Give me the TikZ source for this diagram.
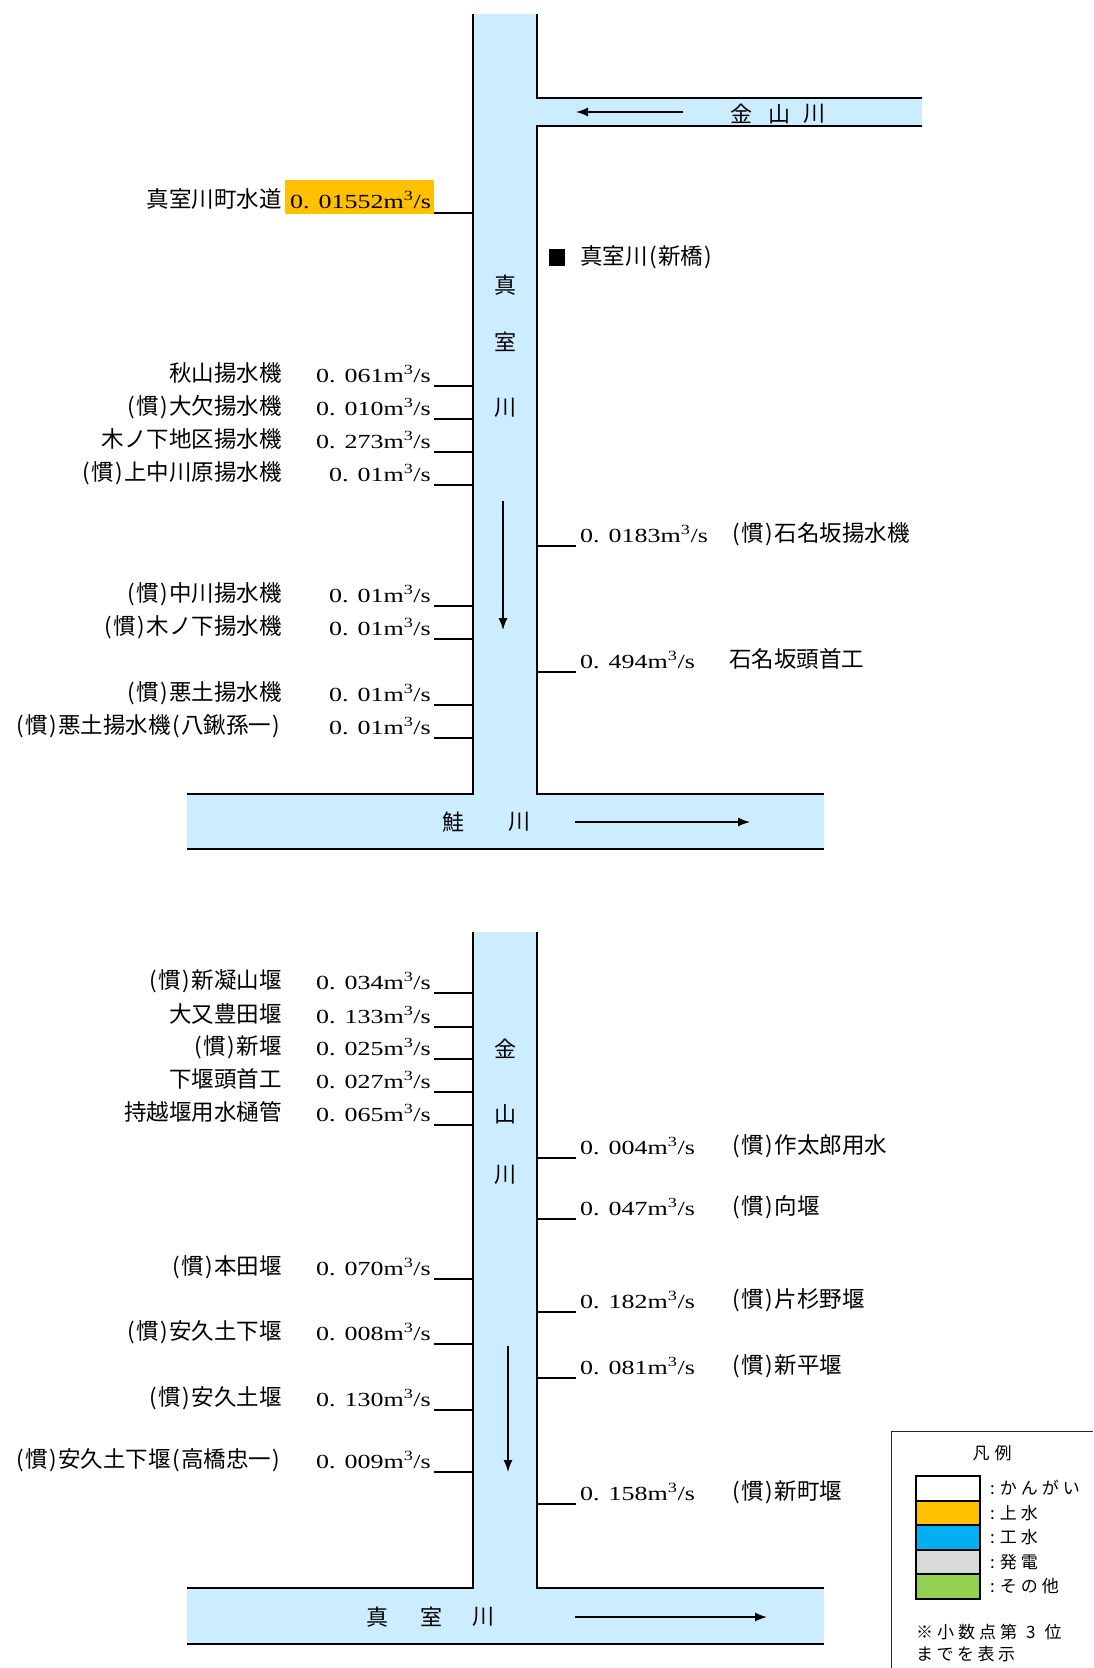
\documentclass[tikz,border=0pt]{standalone}
\usepackage{fontspec}
\setmainfont{Liberation Serif}
\newfontfamily\numf[FakeStretch=1.3]{Liberation Serif}
\newfontfamily\cjk{Noto Sans CJK JP}
\usetikzlibrary{arrows.meta}
\definecolor{riv}{RGB}{204,236,255}
\definecolor{lorange}{RGB}{255,192,0}
\definecolor{lcyan}{RGB}{0,176,240}
\definecolor{lgrey}{RGB}{217,217,217}
\definecolor{lgreen}{RGB}{146,208,80}
\newcommand\msq{m\textsuperscript{3}/s}
\newcommand\vv[2]{#1.\kern9pt#2\msq}
\newcommand\lp{\makebox[10.5pt]{(}}
\newcommand\rp{\makebox[10.5pt]{)}}
\newcommand\kan{\lp{}慣\rp{}}
\begin{document}
\begin{tikzpicture}[x=1pt,y=-1pt,
  bank/.style={line width=2pt},
  tick/.style={line width=2.2pt},
  flow/.style={line width=1.4pt,-{Latex[length=12pt,width=9pt]}},
  nm/.style={font=\cjk\fontsize{22.5}{26}\selectfont,inner sep=0pt,anchor=base east},
  vl/.style={font=\numf\fontsize{20}{24}\selectfont,inner sep=0pt,anchor=base east},
  nmr/.style={font=\cjk\fontsize{22.5}{26}\selectfont,inner sep=0pt,anchor=base west},
  vlr/.style={font=\numf\fontsize{20}{24}\selectfont,inner sep=0pt,anchor=base west},
  rv/.style={font=\cjk\fontsize{22}{26}\selectfont,inner sep=0pt},
  lg/.style={font=\cjk\fontsize{17}{20}\selectfont,inner sep=0pt,anchor=base west}]
\useasboundingbox (0,0) rectangle (1093,1668);

% ===== upper river system =====
\fill[riv] (473,14) rectangle (537,849);
\fill[riv] (537,98) rectangle (922,126);
\fill[riv] (187,794) rectangle (824,849);
\draw[bank] (473,14) -- (473,794) -- (187,794);
\draw[bank] (537,14) -- (537,98) -- (922,98);
\draw[bank] (922,126) -- (537,126) -- (537,794) -- (824,794);
\draw[bank] (187,849) -- (824,849);

\node[rv] (u1) at (505,285) {真};
\node[rv] (u2) at (505,342) {室};
\node[rv] (u3) at (505,408) {川};
\node[rv] (k1) at (741,114) {金};
\node[rv] (k2) at (779,114) {山};
\node[rv] (k3) at (814,114) {川};
\node[rv] (s1) at (453,822) {鮭};
\node[rv] (s2) at (519,822) {川};

\coordinate (ka) at (683,112); \coordinate (kb) at (576,112);
\draw[flow] (ka) -- (kb);
\coordinate (da) at (503,501); \coordinate (db) at (503,630);
\draw[flow] (da) -- (db);
\coordinate (sa) at (575,822); \coordinate (sb) at (750,822);
\draw[flow] (sa) -- (sb);

% water supply
\fill[lorange] (285,180) rectangle (434,214);
\node[nm] (w0) at (282,207) {真室川町水道};
\node[vlr] (w1) at (290,208) {\vv{0}{01552}};
\draw[tick] (434,213) -- (473,213);

% gauging point
\fill (549,249) rectangle (565,266);
\node[nmr] (gp) at (580,264) {真室川\lp{}新橋\rp{}};

% left intakes upper
\foreach \y/\n/\v [count=\i] in {386/秋山揚水機/061, 419/\kan{}大欠揚水機/010,
  452/木ノ下地区揚水機/273, 485/\kan{}上中川原揚水機/01, 606/\kan{}中川揚水機/01,
  639/\kan{}木ノ下揚水機/01, 705/\kan{}悪土揚水機/01, 738/\kan{}悪土揚水機\lp{}八鍬孫一\rp{}/01}{
  \node[nm] (ul\i) at (282,\y-5) {\n};
  \node[vl] (uv\i) at (431,\y-4) {\vv{0}{\v}};
  \draw[tick] (434,\y) -- (473,\y);
}
% right intakes upper
\foreach \y/\v/\n/\nx [count=\i] in {546/0183/\kan{}石名坂揚水機/731, 672/494/石名坂頭首工/729}{
  \node[vlr] (urv\i) at (580,\y-4) {\vv{0}{\v}};
  \node[nmr] (urn\i) at (\nx,\y-5) {\n};
  \draw[tick] (537,\y) -- (576,\y);
}

% ===== lower river system =====
\fill[riv] (473,932) rectangle (537,1644);
\fill[riv] (187,1588) rectangle (824,1644);
\draw[bank] (473,932) -- (473,1588) -- (187,1588);
\draw[bank] (537,932) -- (537,1588) -- (824,1588);
\draw[bank] (187,1644) -- (824,1644);

\node[rv] (l1) at (505,1049) {金};
\node[rv] (l2) at (505,1114) {山};
\node[rv] (l3) at (505,1175) {川};
\node[rv] (m1) at (377,1617) {真};
\node[rv] (m2) at (431,1617) {室};
\node[rv] (m3) at (483,1617) {川};

\coordinate (ea) at (508,1346); \coordinate (eb) at (508,1472);
\draw[flow] (ea) -- (eb);
\coordinate (fa) at (575,1617); \coordinate (fb) at (767,1617);
\draw[flow] (fa) -- (fb);

\foreach \y/\n/\v [count=\i] in {993/\kan{}新凝山堰/034, 1027/大又豊田堰/133,
  1059/\kan{}新堰/025, 1092/下堰頭首工/027, 1125/持越堰用水樋管/065,
  1279/\kan{}本田堰/070, 1344/\kan{}安久土下堰/008, 1410/\kan{}安久土堰/130,
  1472/\kan{}安久土下堰\lp{}高橋忠一\rp{}/009}{
  \node[nm] (ll\i) at (282,\y-5) {\n};
  \node[vl] (lv\i) at (431,\y-4) {\vv{0}{\v}};
  \draw[tick] (434,\y) -- (473,\y);
}
\foreach \y/\v/\n [count=\i] in {1158/004/\kan{}作太郎用水, 1219/047/\kan{}向堰,
  1312/182/\kan{}片杉野堰, 1378/081/\kan{}新平堰, 1504/158/\kan{}新町堰}{
  \node[vlr] (lrv\i) at (580,\y-4) {\vv{0}{\v}};
  \node[nmr] (lrn\i) at (731,\y-5) {\n};
  \draw[tick] (537,\y) -- (576,\y);
}

% ===== legend =====
\draw[line width=1pt,black!85] (891,1668) -- (891,1431) -- (1093,1431);
\node[font=\cjk\fontsize{17}{20}\selectfont,inner sep=0pt] (lgt) at (992,1453) {凡\kern5pt 例};
\foreach \c/\t [count=\i from 0] in {white/か\kern4pt ん\kern4pt が\kern4pt い,
  lorange/上\kern4pt 水, lcyan/工\kern4pt 水, lgrey/発\kern4pt 電,
  lgreen/そ\kern4pt の\kern4pt 他}{
  \draw[line width=2pt,fill=\c] (916,{1476+24.6*\i}) rectangle (980,{1476+24.6*(\i+1)});
  \node[lg] (lgl\i) at (990,{1476+24.6*\i+18.5}) {:\kern5pt\t};
}
\node[lg] (nt1) at (916,1638) {※\kern4pt 小\kern4pt 数\kern4pt 点\kern4pt 第\kern9pt 3\kern9pt 位};
\node[lg] (nt2) at (916,1660) {ま\kern3.5pt で\kern3.5pt を\kern3.5pt 表\kern3.5pt 示};
\end{tikzpicture}
\end{document}
